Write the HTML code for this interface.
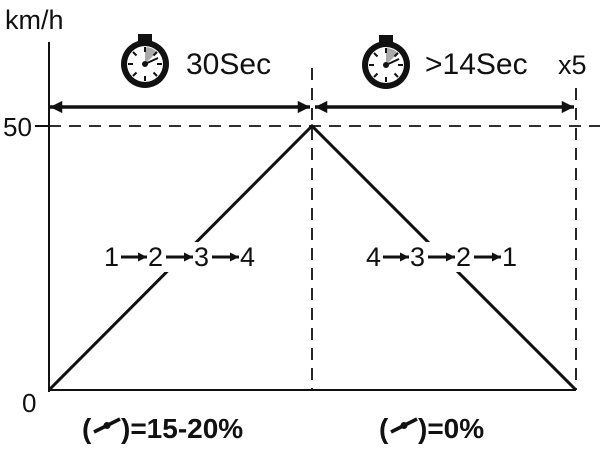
<!DOCTYPE html>
<html><head><style>
body{margin:0;background:#fff;}
svg text{font-family:"Liberation Sans",sans-serif;fill:#111;}
</style></head><body>
<svg width="600" height="450" viewBox="0 0 600 450" xmlns="http://www.w3.org/2000/svg">
<defs>
<marker id="a" viewBox="0 0 10 10" refX="10" refY="5" markerWidth="6" markerHeight="3.5" orient="auto-start-reverse" markerUnits="strokeWidth"><path d="M0,0 L10,5 L0,10z" fill="#111"/></marker>
<marker id="s" viewBox="0 0 10 10" refX="10" refY="5" markerWidth="4" markerHeight="3" orient="auto" markerUnits="strokeWidth"><path d="M0,0 L10,5 L0,10z" fill="#111"/></marker>
<g id="sw">
<rect x="-7" y="-30" width="14" height="7" fill="#111"/>
<rect x="-2" y="-25" width="4" height="4" fill="#111"/>
<circle r="24" fill="#111"/>
<circle r="18" fill="#fff"/>
<path d="M0,0 L0,-17 A17,17 0 0 1 12,-12z" fill="#aaa"/>
<g stroke="#111" stroke-width="2">
<line x1="0" y1="-17" x2="0" y2="-12"/><line x1="0" y1="17" x2="0" y2="12"/>
<line x1="-17" y1="0" x2="-12" y2="0"/><line x1="17" y1="0" x2="12" y2="0"/>
<line x1="12" y1="12" x2="8.5" y2="8.5"/><line x1="-12" y1="12" x2="-8.5" y2="8.5"/>
<line x1="-12" y1="-12" x2="-8.5" y2="-8.5"/><line x1="12" y1="-12" x2="8.5" y2="-8.5"/>
<line x1="0" y1="0" x2="13" y2="-6"/>
</g>
<circle r="3" fill="#111"/>
</g>
</defs>
<g stroke="#111" stroke-width="2" fill="none">
<line x1="49" y1="42" x2="49" y2="392"/>
<line x1="49" y1="390" x2="576" y2="390"/>
<line x1="35" y1="126" x2="49" y2="126"/>
<polyline points="49,390 312,126 576,390" stroke-width="3"/>
<g stroke-dasharray="12,8" stroke-width="1.8">
<line x1="49" y1="126" x2="600" y2="126"/>
<line x1="312" y1="68" x2="312" y2="390"/>
<line x1="576" y1="88" x2="576" y2="390"/>
</g>
<line x1="50" y1="107" x2="310" y2="107" stroke-width="3.5" marker-start="url(#a)" marker-end="url(#a)"/>
<line x1="315" y1="107" x2="574" y2="107" stroke-width="3.5" marker-start="url(#a)" marker-end="url(#a)"/>
</g>
<use href="#sw" x="145" y="64"/>
<use href="#sw" x="386" y="65"/>
<text x="5" y="29" font-size="27">km/h</text>
<text x="3" y="136" font-size="26">50</text>
<text x="22" y="412" font-size="26">0</text>
<text x="186" y="74" font-size="30">30Sec</text>
<text x="425" y="74" font-size="30">&gt;14Sec</text>
<text x="558" y="74" font-size="27">x5</text>
<rect x="100" y="242" width="166" height="30" fill="#fff"/>
<rect x="362" y="242" width="166" height="30" fill="#fff"/>
<g font-size="27">
<text x="104" y="266">1</text><text x="148" y="266">2</text><text x="194" y="266">3</text><text x="240" y="266">4</text>
<text x="366" y="266">4</text><text x="410" y="266">3</text><text x="456" y="266">2</text><text x="502" y="266">1</text>
</g>
<g stroke="#111" stroke-width="3">
<line x1="121" y1="257" x2="147" y2="257" marker-end="url(#s)"/>
<line x1="166" y1="257" x2="193" y2="257" marker-end="url(#s)"/>
<line x1="212" y1="257" x2="239" y2="257" marker-end="url(#s)"/>
<line x1="383" y1="257" x2="409" y2="257" marker-end="url(#s)"/>
<line x1="428" y1="257" x2="455" y2="257" marker-end="url(#s)"/>
<line x1="474" y1="257" x2="501" y2="257" marker-end="url(#s)"/>
</g>
<g font-size="28" font-weight="bold">
<text x="82" y="438">(</text>
<path d="M94,432 L120,419" stroke="#111" stroke-width="3.5"/><circle cx="107" cy="425.5" r="3.5" fill="#111"/>
<text x="121" y="438">)=15-20%</text>
<text x="379" y="438">(</text>
<path d="M391,432 L417,419" stroke="#111" stroke-width="3.5"/><circle cx="404" cy="425.5" r="3.5" fill="#111"/>
<text x="418" y="438">)=0%</text>
</g>
</svg>
</body></html>
